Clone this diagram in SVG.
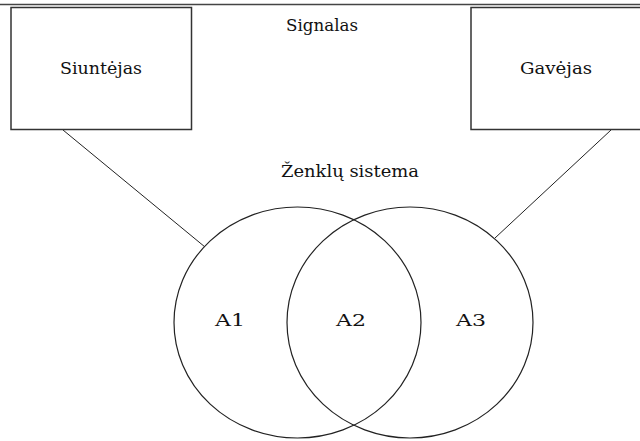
<svg xmlns="http://www.w3.org/2000/svg" width="640" height="441" viewBox="0 0 640 441">
<style>
.box{fill:#fff;stroke:#333;stroke-width:1.5}
.ln{fill:none;stroke:#222;stroke-width:1}
.circ{fill:none;stroke:#222;stroke-width:1.2}
.t{font-family:"DejaVu Serif","Liberation Serif",serif;font-size:17px;fill:#111;text-anchor:middle}
</style>
<rect width="640" height="441" fill="#fff"/>
<line x1="0" y1="4.5" x2="640" y2="4.5" stroke="#444" stroke-width="1.5"/>
<g id="connectors">
<line class="ln" x1="63" y1="130" x2="205" y2="247"/>
<line class="ln" x1="611" y1="130" x2="495" y2="238"/>
</g>
<g id="siuntejas">
<rect class="box" x="11" y="7.5" width="180.5" height="122"/>
<text class="t" x="101" y="74" textLength="82" lengthAdjust="spacingAndGlyphs">Siuntėjas</text>
</g>
<g id="gavejas">
<rect class="box" x="471" y="7.5" width="180" height="122"/>
<text class="t" x="556" y="74" textLength="72" lengthAdjust="spacingAndGlyphs">Gavėjas</text>
</g>
<g id="signalas">
<text class="t" x="322" y="31" textLength="72" lengthAdjust="spacingAndGlyphs">Signalas</text>
</g>
<g id="zenklu-sistema">
<text class="t" x="350" y="177" textLength="138" lengthAdjust="spacingAndGlyphs">Ženklų sistema</text>
</g>
<g id="a1">
<ellipse class="circ" cx="297.5" cy="322.5" rx="123.5" ry="115.5"/>
</g>
<g id="a3">
<ellipse class="circ" cx="410" cy="322.5" rx="123" ry="115.5"/>
</g>
<g id="labels">
<text class="t" x="230" y="326" textLength="30" lengthAdjust="spacingAndGlyphs">A1</text>
<text class="t" x="351" y="326" textLength="30" lengthAdjust="spacingAndGlyphs">A2</text>
<text class="t" x="471" y="326" textLength="30" lengthAdjust="spacingAndGlyphs">A3</text>
</g>
</svg>
